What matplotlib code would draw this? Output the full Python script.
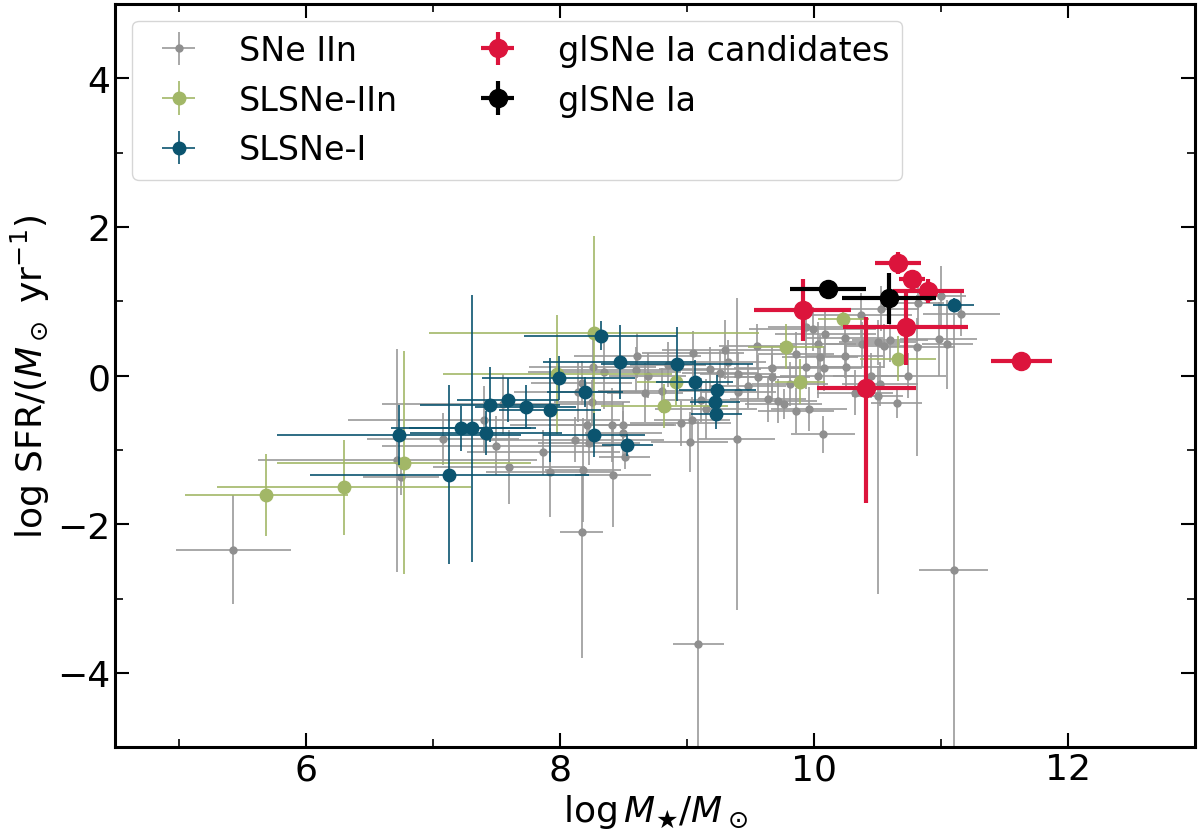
import numpy as np
import matplotlib
matplotlib.use("Agg")
import matplotlib.pyplot as plt

# SNe IIn hosts (grey)
sn2_x = [5.43, 6.72, 6.75, 7.08, 7.40, 7.50, 7.60, 7.87, 7.92, 8.12,
         8.23, 8.21, 8.41, 8.50, 8.50, 8.51, 8.18, 8.42, 8.17, 9.09,
         11.10, 8.95, 9.04, 9.02, 9.39, 9.11, 8.14, 8.17, 8.25, 8.26,
         8.61, 8.60, 8.69, 8.67, 9.18, 9.26, 9.30, 9.32, 9.40, 9.40,
         9.48, 9.56, 9.67, 9.67, 9.64, 9.72, 9.76, 9.81, 9.86, 9.94,
         9.86, 9.96, 10.07, 10.03, 10.05, 10.08, 10.03, 10.09, 9.99, 9.94,
         10.24, 10.24, 10.25, 10.38, 10.37, 10.32, 10.50, 10.52, 10.50, 10.55,
         10.60, 10.65, 10.74, 10.81, 10.98, 11.05, 11.16, 11.00, 10.45, 9.05,
         8.85, 10.82, 10.53, 7.55, 8.35, 8.80, 9.15, 9.55]
sn2_y = [-2.34, -1.14, -1.36, -0.85, -0.59, -0.94, -1.23, -1.03, -1.30, -0.86,
         -0.90, -0.66, -0.66, -0.66, -0.77, -1.10, -1.27, -1.33, -2.10, -3.61,
         -2.62, -0.64, -0.59, -0.89, -0.85, -0.33, -0.22, -0.10, -0.36, 0.12,
         0.27, 0.08, 0.00, -0.23, 0.09, 0.04, 0.35, 0.18, 0.02, -0.22,
         -0.14, -0.02, 0.10, -0.02, -0.32, -0.34, -0.38, -0.11, 0.29, 0.12,
         -0.47, -0.45, -0.79, 0.42, 0.25, 0.10, 0.00, 0.56, 0.63, 0.65,
         0.51, 0.27, 0.11, 0.42, 0.81, -0.23, -0.27, -0.11, 0.45, 0.40,
         0.48, -0.37, 0.00, 0.38, 0.49, 0.42, 0.83, 1.07, 0.00, 0.30,
         0.15, 0.98, 0.90, -0.38, 0.05, -0.20, -0.45, 0.40]
sn2_xerr = [0.45, 1.10, 0.30, 0.60, 1.07, 0.90, 0.60, 0.60, 0.50, 0.70,
            0.40, 0.60, 0.50, 0.40, 0.30, 0.20, 0.30, 0.30, 0.17, 0.20,
            0.27, 0.40, 0.30, 0.30, 0.30, 0.30, 0.50, 0.40, 0.30, 0.50,
            0.50, 0.60, 0.30, 0.30, 0.40, 0.30, 0.50, 0.30, 0.30, 0.30,
            0.30, 0.30, 0.30, 0.30, 0.30, 0.30, 0.30, 0.30, 0.30, 0.30,
            0.30, 0.30, 0.25, 0.30, 0.30, 0.30, 0.30, 0.40, 0.50, 0.30,
            0.30, 0.30, 0.30, 0.30, 0.40, 0.30, 0.20, 0.30, 0.30, 0.30,
            0.30, 0.20, 0.30, 0.30, 0.30, 0.20, 0.30, 0.20, 0.30, 0.40,
            0.30, 0.20, 0.30, 0.95, 0.60, 0.50, 0.40, 0.30]
sn2_ylo = [0.73, 1.50, 0.25, 0.35, 0.45, 0.40, 0.50, 0.30, 0.60, 0.30,
           0.30, 0.30, 0.50, 0.30, 0.30, 0.15, 0.70, 0.70, 1.70, 3.00,
           3.00, 0.30, 0.30, 0.40, 2.30, 0.30, 0.40, 0.30, 0.30, 0.40,
           0.30, 0.30, 0.30, 0.40, 0.30, 0.30, 0.40, 0.30, 0.30, 0.30,
           0.30, 0.30, 0.30, 0.30, 0.30, 0.30, 0.20, 0.30, 0.30, 0.30,
           0.30, 0.30, 0.25, 0.30, 0.30, 0.30, 0.30, 0.30, 0.30, 0.30,
           0.30, 0.30, 0.30, 0.30, 0.30, 0.30, 2.67, 0.30, 0.30, 0.30,
           0.30, 0.20, 0.30, 1.46, 0.50, 0.60, 0.30, 0.40, 0.30, 0.30,
           0.30, 0.30, 0.30, 0.40, 0.50, 0.30, 0.40, 0.30]
sn2_yhi = [0.73, 1.50, 0.25, 0.35, 0.45, 0.40, 0.50, 0.30, 0.60, 0.30,
           0.30, 0.30, 0.50, 0.30, 0.30, 0.15, 0.70, 0.70, 0.80, 3.00,
           3.60, 0.30, 0.30, 0.40, 1.90, 0.30, 0.40, 0.30, 0.30, 0.40,
           0.30, 0.30, 0.30, 0.40, 0.30, 0.30, 0.40, 0.30, 0.30, 0.30,
           0.30, 0.30, 0.30, 0.30, 0.30, 0.30, 0.20, 0.30, 0.30, 0.30,
           0.30, 0.30, 0.25, 0.30, 0.30, 0.30, 0.30, 0.30, 0.30, 0.30,
           0.30, 0.30, 0.30, 0.30, 0.30, 0.30, 0.40, 0.30, 0.30, 0.30,
           0.30, 0.20, 0.30, 0.40, 0.50, 0.60, 0.30, 0.40, 0.30, 0.30,
           0.30, 0.30, 0.30, 0.40, 0.50, 0.30, 0.40, 0.30]

# SLSNe-IIn hosts (green)
slsn2_x = [5.69, 6.30, 6.77, 7.98, 8.27, 8.82, 8.91, 9.78, 9.89, 10.23, 10.66]
slsn2_y = [-1.61, -1.50, -1.17, 0.02, 0.58, -0.41, -0.09, 0.39, -0.08, 0.76, 0.23]
slsn2_xerr = [0.64, 1.00, 1.00, 0.90, 1.30, 0.50, 0.30, 0.30, 0.20, 0.20, 0.30]
slsn2_yerr = [0.55, 0.64, 1.50, 0.80, 1.30, 0.30, 0.30, 0.30, 0.30, 0.10, 0.30]

# SLSNe-I hosts (teal)
slsn1_x = [6.73, 7.13, 7.22, 7.31, 7.42, 7.45, 7.59, 7.73, 7.92, 7.99,
           8.20, 8.27, 8.32, 8.47, 8.53, 8.92, 9.06, 9.24, 9.22, 9.23, 11.10]
slsn1_y = [-0.80, -1.33, -0.71, -0.71, -0.77, -0.39, -0.33, -0.42, -0.46, -0.03,
           -0.22, -0.80, 0.54, 0.18, -0.93, 0.16, -0.09, -0.19, -0.35, -0.52, 0.95]
slsn1_xerr = [0.96, 1.10, 0.55, 0.50, 0.60, 0.55, 0.40, 0.40, 0.40, 0.60,
              0.30, 0.40, 0.60, 0.60, 0.20, 0.60, 0.30, 0.30, 0.20, 0.20, 0.16]
slsn1_yerr = [0.40, 1.20, 0.30, 1.80, 0.30, 0.50, 0.30, 0.30, 0.70, 0.30,
              0.20, 0.30, 0.20, 0.50, 0.15, 0.50, 0.30, 0.20, 0.20, 0.20, 0.10]

# glSNe Ia candidates (red)
cand_x = [9.91, 10.66, 10.77, 10.90, 10.72, 10.41, 11.63]
cand_y = [0.88, 1.52, 1.30, 1.14, 0.65, -0.16, 0.20]
cand_xerr = [0.38, 0.18, 0.10, 0.28, 0.49, 0.39, 0.24]
cand_ylo = [0.42, 0.15, 0.10, 0.16, 0.51, 1.55, 0.05]
cand_yhi = [0.42, 0.15, 0.10, 0.16, 0.51, 0.95, 0.05]

# glSNe Ia (black)
gl_x = [10.11, 10.59]
gl_y = [1.17, 1.04]
gl_xerr = [0.30, 0.37]
gl_yerr = [0.03, 0.34]

fig = plt.figure(figsize=(12, 8.37), dpi=100)
ax = fig.add_axes([0.096, 0.106, 0.9, 0.888])

ax.errorbar(sn2_x, sn2_y, xerr=sn2_xerr, yerr=[sn2_ylo, sn2_yhi], fmt='o',
            color='#8f8f8f', ecolor='#9a9a9a', ms=5, elinewidth=1.2,
            capsize=0, label='SNe IIn', zorder=1)
ax.errorbar(slsn2_x, slsn2_y, xerr=slsn2_xerr, yerr=slsn2_yerr, fmt='o',
            color='#a2b767', ms=9, elinewidth=1.2, capsize=0,
            label='SLSNe-IIn', zorder=2)
ax.errorbar(slsn1_x, slsn1_y, xerr=slsn1_xerr, yerr=slsn1_yerr, fmt='o',
            color='#0b546f', ms=9, elinewidth=1.2, capsize=0,
            label='SLSNe-I', zorder=3)
ax.errorbar(cand_x, cand_y, xerr=cand_xerr, yerr=[cand_ylo, cand_yhi], fmt='o',
            color='#dc143c', ms=13, elinewidth=3, capsize=0,
            label='glSNe Ia candidates', zorder=4)
ax.errorbar(gl_x, gl_y, xerr=gl_xerr, yerr=gl_yerr, fmt='o',
            color='black', ms=13, elinewidth=3, capsize=0,
            label='glSNe Ia', zorder=5)

ax.set_xlim(4.5, 13)
ax.set_ylim(-5, 5)
ax.set_xticks([6, 8, 10, 12])
ax.set_yticks([-4, -2, 0, 2, 4])
ax.set_xticks([5, 7, 9, 11], minor=True)
ax.set_yticks([-5, -3, -1, 1, 3, 5], minor=True)
ax.tick_params(which='both', direction='in', top=True, right=True, labelsize=26)
ax.tick_params(which='major', length=10, width=1.5)
ax.tick_params(which='minor', length=6, width=1.2)
for s in ax.spines.values():
    s.set_linewidth(2.2)

ax.set_xlabel(r'$\log M_\bigstar/M_\odot$', fontsize=26)
ax.set_ylabel(r'log SFR/($M_\odot$ yr$^{-1}$)', fontsize=26)

ax.legend(loc='upper left', ncol=2, fontsize=24, borderaxespad=0.5)

fig.savefig('out.png', dpi=100)
